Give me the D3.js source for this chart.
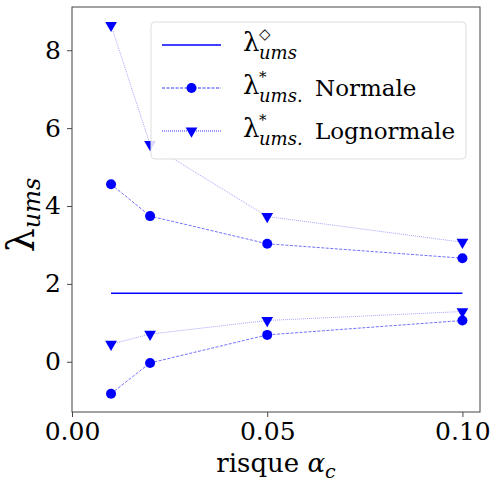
<!DOCTYPE html>
<html>
<head>
<meta charset="utf-8">
<script src="https://cdn.jsdelivr.net/npm/d3@7"></script>
<style>
  body { margin: 0; background: #fff; }
  svg { display: block; }
</style>
</head>
<body>
<svg id="chart" width="490" height="485"></svg>
<script>
// ---- data ----
const alphas = [0.01, 0.02, 0.05, 0.10];
const lambdaDiamond = [1.76, 1.76, 1.76, 1.76];
const normaleUpper = [4.56, 3.74, 3.03, 2.66];
const normaleLower = [-0.82, -0.03, 0.69, 1.06];
const lognormaleUpper = [8.64, 5.58, 3.73, 3.07];
const lognormaleLower = [0.45, 0.71, 1.06, 1.29];
const xTicks = [0.00, 0.05, 0.10];
const yTicks = [0, 2, 4, 6, 8];

const FONT = "DejaVu Serif";
const svg = d3.select("#chart");
const m = { left: 72, top: 7, right: 480, bottom: 412 };
const x = d3.scaleLinear().domain([0, 0.1045]).range([m.left, m.right]);
const y = d3.scaleLinear().domain([-1.29, 9.11]).range([m.bottom, m.top]);
const blue = "#0000ff";

// axes
const xAxis = d3.axisBottom(x).tickValues(xTicks).tickFormat(d3.format(".2f")).tickSize(5).tickPadding(5);
const yAxis = d3.axisLeft(y).tickValues(yTicks).tickFormat(d3.format("d")).tickSize(5).tickPadding(6);
const gx = svg.append("g").attr("transform", `translate(0,${m.bottom})`).call(xAxis);
const gy = svg.append("g").attr("transform", `translate(${m.left},0)`).call(yAxis);
[gx, gy].forEach(g => {
  g.attr("font-family", FONT).attr("font-size", 25);
  g.select(".domain").remove();
  g.selectAll(".tick line").attr("stroke", "#333").attr("stroke-width", 0.9);
  g.selectAll(".tick text").attr("fill", "#000");
});
gx.selectAll(".tick text").attr("dy", "0.71em");

// frame
svg.append("rect").attr("x", m.left).attr("y", m.top)
  .attr("width", m.right - m.left).attr("height", m.bottom - m.top)
  .attr("fill", "none").attr("stroke", "#444").attr("stroke-width", 1);

const line = d3.line().x((d, i) => x(alphas[i])).y(d => y(d));

svg.append("path").datum(lambdaDiamond).attr("d", line)
  .attr("fill", "none").attr("stroke", blue).attr("stroke-width", 1.6);

[normaleUpper, normaleLower].forEach(s => {
  svg.append("path").datum(s).attr("d", line)
    .attr("fill", "none").attr("stroke", blue).attr("stroke-width", 0.7)
    .attr("stroke-dasharray", "3,1.5").attr("opacity", 0.8);
  svg.selectAll(null).data(s).enter().append("circle")
    .attr("cx", (d, i) => x(alphas[i])).attr("cy", d => y(d)).attr("r", 5).attr("fill", blue);
});

const tri = d3.symbol().type(d3.symbolTriangle).size(60);
[lognormaleUpper, lognormaleLower].forEach(s => {
  svg.append("path").datum(s).attr("d", line)
    .attr("fill", "none").attr("stroke", blue).attr("stroke-width", 0.6)
    .attr("stroke-dasharray", "1,1").attr("opacity", 0.6);
  svg.selectAll(null).data(s).enter().append("path")
    .attr("d", tri)
    .attr("transform", (d, i) => `translate(${x(alphas[i])},${y(d)}) rotate(180)`)
    .attr("fill", blue);
});

// legend
const lg = svg.append("g").attr("font-family", FONT);
lg.append("rect").attr("x", 151).attr("y", 22).attr("width", 315).attr("height", 137)
  .attr("rx", 4).attr("fill", "#fff").attr("fill-opacity", 0.85)
  .attr("stroke", "#ddd").attr("stroke-width", 1);
const legendRows = [
  { y: 45, dash: null, w: 1.6, marker: null, sup: "◇", after: "" },
  { y: 88, dash: "3,1.5", w: 0.8, marker: "circle", sup: "*", after: "Normale" },
  { y: 131, dash: "1,1", w: 0.8, marker: "tri", sup: "*", after: "Lognormale" }
];
legendRows.forEach(r => {
  lg.append("line").attr("x1", 162).attr("x2", 221).attr("y1", r.y).attr("y2", r.y)
    .attr("stroke", blue).attr("stroke-width", r.w)
    .attr("stroke-dasharray", r.dash);
  if (r.marker === "circle") lg.append("circle").attr("cx", 191.5).attr("cy", r.y).attr("r", 5).attr("fill", blue);
  if (r.marker === "tri") lg.append("path").attr("d", tri).attr("transform", `translate(191.5,${r.y}) rotate(180)`).attr("fill", blue);
  lg.append("text").attr("x", 243).attr("y", r.y + 6).attr("font-size", 26).text("λ");
  lg.append("text").attr("x", 259).attr("y", r.y - 6).attr("font-size", 15).text(r.sup);
  lg.append("text").attr("x", 259).attr("y", r.y + 14).attr("font-size", 18).attr("font-style", "italic").text("ums" + (r.after ? "." : ""));
  if (r.after) lg.append("text").attr("x", 315).attr("y", r.y + 8).attr("font-size", 23).text(r.after);
});

// axis labels
const xl = svg.append("text").attr("x", (m.left + m.right) / 2).attr("y", 472)
  .attr("text-anchor", "middle").attr("font-family", FONT).attr("font-size", 26);
xl.append("tspan").text("risque ");
xl.append("tspan").attr("font-style", "italic").text("α");
xl.append("tspan").attr("dy", 6).attr("font-size", 19).attr("font-style", "italic").text("c");

const yl = svg.append("text").attr("transform", `translate(34,215) rotate(-90)`)
  .attr("text-anchor", "middle").attr("font-family", FONT).attr("font-size", 38);
yl.append("tspan").text("λ");
yl.append("tspan").attr("dy", 6).attr("font-size", 24).attr("font-style", "italic").text("ums");
</script>
</body>
</html>
